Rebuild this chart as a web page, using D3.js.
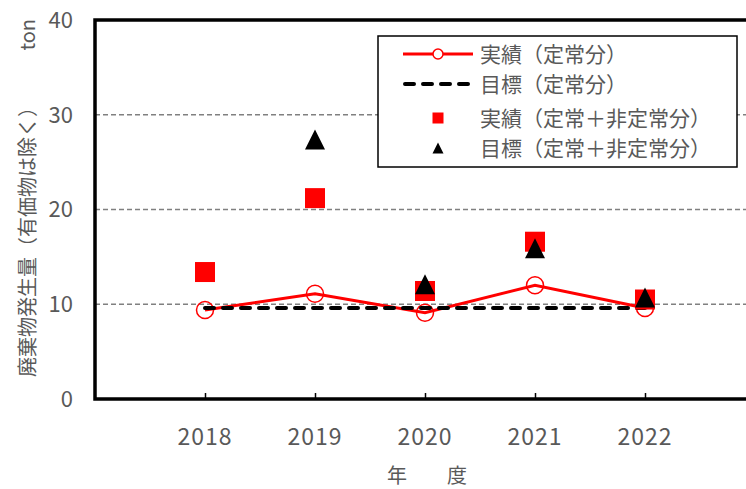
<!DOCTYPE html>
<html>
<head>
<meta charset="utf-8">
<script src="https://cdn.jsdelivr.net/npm/d3@7"></script>
<style>
  body { margin: 0; background: #fff; }
  svg { display: block; font-family: "Noto Sans CJK JP", "Noto Sans", sans-serif; }
</style>
</head>
<body>
<svg id="chart" width="746" height="489"></svg>
<script>
// data
const years = [2018, 2019, 2020, 2021, 2022];
const actualRegular = [9.4, 11.1, 9.1, 12.0, 9.6];
const targetRegular = [9.6, 9.6, 9.6, 9.6, 9.6];
const actualTotal = [13.4, 21.2, 11.4, 16.6, 10.5];
const targetTotal = [null, 27.4, 12.1, 15.9, 10.7];
const yTicks = [0, 10, 20, 30, 40];
const gridTicks = [10, 20, 30];
const legendLabels = ['実績（定常分）', '目標（定常分）', '実績（定常＋非定常分）', '目標（定常＋非定常分）'];

const svg = d3.select('#chart');
const textColor = '#595959';

const x = d3.scaleLinear().domain([2017, 2023]).range([95, 755]);
const y = d3.scaleLinear().domain([0, 40]).range([399, 20]);

// gridlines
svg.append('g')
    .selectAll('line')
    .data(gridTicks)
    .enter()
    .append('line')
    .attr('x1', x(2017))
    .attr('x2', x(2023))
    .attr('y1', d => y(d))
    .attr('y2', d => y(d))
    .attr('stroke', '#808080')
    .attr('stroke-width', 1.5)
    .attr('stroke-dasharray', '5,3');

// y axis labels
svg.append('g')
    .selectAll('text')
    .data(yTicks)
    .enter()
    .append('text')
    .attr('x', 73)
    .attr('y', d => y(d))
    .attr('dy', '0.36em')
    .attr('text-anchor', 'end')
    .attr('font-size', 22)
    .attr('fill', textColor)
    .text(d => d);

// x axis ticks (inward) + labels
const xAxis = d3.axisTop(x)
    .tickValues(years)
    .tickSize(6)
    .tickFormat('');
svg.append('g')
    .attr('transform', 'translate(0,' + y(0) + ')')
    .call(xAxis)
    .call(g => g.select('.domain').remove())
    .call(g => g.selectAll('.tick line').attr('stroke', '#000').attr('stroke-width', 1.5));

svg.append('g')
    .selectAll('text')
    .data(years)
    .enter()
    .append('text')
    .attr('x', d => x(d))
    .attr('y', 445)
    .attr('text-anchor', 'middle')
    .attr('font-size', 23)
    .attr('letter-spacing', 1)
    .attr('fill', textColor)
    .text(d => d);

// frame: left, top, bottom
svg.append('path')
    .attr('d', 'M' + x(2023) + ',' + y(40) + 'H' + x(2017) + 'V' + y(0) + 'H' + x(2023))
    .attr('fill', 'none')
    .attr('stroke', '#000')
    .attr('stroke-width', 3.5);

// axis titles
svg.append('text')
    .attr('transform', 'translate(35,377) rotate(-90)')
    .attr('text-anchor', 'start')
    .attr('font-size', 20)
    .attr('fill', textColor)
    .text('廃棄物発生量（有価物は除く）');
svg.append('text')
    .attr('transform', 'translate(35,19) rotate(-90)')
    .attr('text-anchor', 'end')
    .attr('font-size', 20)
    .attr('fill', textColor)
    .text('ton');

svg.append('text')
    .attr('x', 427)
    .attr('y', 483)
    .attr('text-anchor', 'middle')
    .attr('font-size', 20)
    .attr('fill', textColor)
    .attr('xml:space', 'preserve')
    .text('年　　度');

// series
const pts = (vals) => years.map((yr, i) => ({ yr: yr, v: vals[i] })).filter(d => d.v != null);

const line = d3.line()
    .x(d => x(d.yr))
    .y(d => y(d.v));

svg.append('path')
    .datum(pts(actualRegular))
    .attr('d', line)
    .attr('fill', 'none')
    .attr('stroke', '#ff0000')
    .attr('stroke-width', 3);

svg.append('g')
    .selectAll('circle')
    .data(pts(actualRegular))
    .enter()
    .append('circle')
    .attr('cx', d => x(d.yr))
    .attr('cy', d => y(d.v))
    .attr('r', 8.5)
    .attr('fill', 'none')
    .attr('stroke', '#ff0000')
    .attr('stroke-width', 1.5);

svg.append('path')
    .datum(pts(targetRegular))
    .attr('d', line)
    .attr('fill', 'none')
    .attr('stroke', '#000')
    .attr('stroke-width', 4)
    .attr('stroke-linecap', 'round')
    .attr('stroke-dasharray', '9,9');

svg.append('g')
    .selectAll('rect')
    .data(pts(actualTotal))
    .enter()
    .append('rect')
    .attr('x', d => x(d.yr) - 10)
    .attr('y', d => y(d.v) - 10)
    .attr('width', 20)
    .attr('height', 20)
    .attr('fill', '#ff0000');

function triangle(cx, cy, s) {
    return 'M' + cx + ',' + (cy - s / 2) + 'L' + (cx + s / 2) + ',' + (cy + s / 2) + 'L' + (cx - s / 2) + ',' + (cy + s / 2) + 'Z';
}

svg.append('g')
    .selectAll('path')
    .data(pts(targetTotal))
    .enter()
    .append('path')
    .attr('d', d => triangle(x(d.yr), y(d.v), 20))
    .attr('fill', '#000');

// legend
const legend = svg.append('g').attr('class', 'legend');
legend.append('rect')
    .attr('x', 378)
    .attr('y', 36)
    .attr('width', 359)
    .attr('height', 131)
    .attr('fill', '#fff')
    .attr('stroke', '#000')
    .attr('stroke-width', 1.5);

const rowY = [54, 84, 118, 148];
legend.selectAll('text')
    .data(legendLabels)
    .enter()
    .append('text')
    .attr('x', 480)
    .attr('y', (d, i) => rowY[i])
    .attr('dy', '0.36em')
    .attr('font-size', 21)
    .attr('fill', textColor)
    .text(d => d);

legend.append('line')
    .attr('x1', 403).attr('x2', 473)
    .attr('y1', rowY[0]).attr('y2', rowY[0])
    .attr('stroke', '#ff0000')
    .attr('stroke-width', 3);
legend.append('circle')
    .attr('cx', 438).attr('cy', rowY[0])
    .attr('r', 5)
    .attr('fill', '#fff')
    .attr('stroke', '#ff0000')
    .attr('stroke-width', 1.5);
legend.append('line')
    .attr('x1', 405).attr('x2', 471)
    .attr('y1', rowY[1]).attr('y2', rowY[1])
    .attr('stroke', '#000')
    .attr('stroke-width', 4)
    .attr('stroke-linecap', 'round')
    .attr('stroke-dasharray', '9,9');
legend.append('rect')
    .attr('x', 432.5).attr('y', rowY[2] - 5.5)
    .attr('width', 11).attr('height', 11)
    .attr('fill', '#ff0000');
legend.append('path')
    .attr('d', triangle(438, rowY[3], 11))
    .attr('fill', '#000');
</script>
</body>
</html>
